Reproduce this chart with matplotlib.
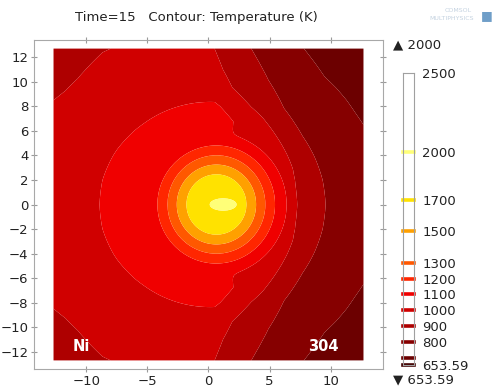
import numpy as np
import matplotlib.pyplot as plt

# contour levels (K) and the fill colour of the band starting at each level
levels = [653.59, 700, 800, 900, 1000, 1100, 1200, 1300, 1500, 1700, 2000, 2500]
band_colors = ['#420000', '#6c0000', '#860000', '#ae0000', '#d00000', '#f00000',
               '#ff2600', '#ff5800', '#ffa000', '#ffe200', '#ffff78']
label_levels = [653.59, 800, 900, 1000, 1100, 1200, 1300, 1500, 1700, 2000, 2500]
t_max, t_min = '2000', '653.59'

# plate temperature away from the spot: profile along x and drop with |y| (K)
bg_x = [-12.7, -11.7, -10.7, -9.7, -8.7, -7.5, -6.0, -4.0, 0.5, 3.5, 7.7, 9.5, 12.7]
bg_Tx = [1016, 1018, 1023, 1031, 1039, 1042, 1041, 1037, 1026, 928, 838, 815, 796]
bg_y = [0.0, 2.0, 4.0, 5.5, 6.6, 7.5, 8.5, 9.5, 10.5, 11.5, 12.7]
bg_dTy = [0, -3, -12, -21, -27, -31, -35, -40, -46, -53, -62]
# broad warming around the spot vs distance from its centre (mm, K)
tail_r = [0, 4.0, 5.0, 6.0, 6.9, 8.0, 8.9, 9.6, 11.0, 12.7, 14.5, 16.0, 20.0]
tail_dT = [110, 120, 130, 145, 152, 122, 87, 62, 46, 36, 26, 18, 5]

# the spot itself: isotherm radii around its centre (mm, K)
spot_x0, spot_y0 = 0.65, 0.0
spot_r = [0, 1.6, 2.1, 2.45, 3.25, 4.0, 4.8, 5.75, 7.0, 9.0, 20.0]
spot_T = [1990, 1985, 1900, 1700, 1500, 1300, 1200, 1100, 900, 600, 0]

# small elliptical core above 2000 K
core_x0, core_y0, core_a, core_b = 1.2, 0.0, 1.1, 0.5
core_Tpeak, core_Tedge = 2030, 2000

half = 12.7
x = np.linspace(-half, half, 601)
X, Y = np.meshgrid(x, x)
R = np.hypot(X - spot_x0, Y - spot_y0)
outer = (np.interp(X, bg_x, bg_Tx) + np.interp(np.abs(Y), bg_y, bg_dTy)
         + np.interp(R, tail_r, tail_dT))
inner = np.interp(R, spot_r, spot_T)
tau = 20.0
T = tau * np.logaddexp(outer / tau, inner / tau)
Q = ((X - core_x0) / core_a) ** 2 + ((Y - core_y0) / core_b) ** 2
T = np.maximum(T, core_Tpeak - (core_Tpeak - core_Tedge) * Q ** 4)

fig = plt.figure(figsize=(4.97, 3.88), dpi=100)
ax = fig.add_axes([34 / 497, 19 / 388, 349 / 497, 329 / 388])
ax.contourf(X, Y, T, levels=levels, colors=band_colors, antialiased=True)
ax.set_xlim(-14.3, 14.3)
ax.set_ylim(-13.4, 13.4)
ax.set_xticks([-10, -5, 0, 5, 10])
ax.set_yticks(range(-12, 13, 2))
ax.tick_params(direction='inout', length=4, width=0.8, color='#9a9a9a',
               labelsize=9.5, labelcolor='#222222', top=True, right=True,
               labeltop=False, labelright=False, pad=2)
for sp in ax.spines.values():
    sp.set_color('#a8a8a8')
    sp.set_linewidth(0.8)

ax.text(-10.4, -11.6, 'Ni', color='white', fontsize=10.5, fontweight='bold',
        ha='center', va='center')
ax.text(9.4, -11.6, '304', color='white', fontsize=10.5, fontweight='bold',
        ha='center', va='center')

fig.text(196 / 497, 1 - 17 / 388, 'Time=15   Contour: Temperature (K)',
         ha='center', va='center', fontsize=9.5, color='#222222')

# legend bar: white box with a coloured dash per level
cax = fig.add_axes([403 / 497, 23 / 388, 11 / 497, 292 / 388])
cax.set_xlim(0, 1)
cax.set_ylim(levels[0], levels[-1])
dash_colors = band_colors + ['#ffffff']
for lev, col in zip(levels, dash_colors):
    cax.axhline(lev, color=col, lw=2.6, clip_on=False)
cax.set_xticks([])
cax.yaxis.tick_right()
cax.set_yticks(label_levels)
cax.set_yticklabels([f'{v:g}' for v in label_levels])
cax.tick_params(axis='y', length=0, labelsize=9.5, labelcolor='#222222', pad=6)
for sp in cax.spines.values():
    sp.set_color('#a0a0a0')
    sp.set_linewidth(0.8)

fig.text(393 / 497, 1 - 45 / 388, '\u25b2 ' + t_max, ha='left', va='center',
         fontsize=9.5, color='#222222')
fig.text(393 / 497, 1 - 380 / 388, '\u25bc ' + t_min, ha='left', va='center',
         fontsize=9.5, color='#222222')

# faint software mark in the corner
fig.text(458 / 497, 1 - 11 / 388, 'COMSOL', ha='center', va='center',
         fontsize=4.5, color='#c4d2e0')
fig.text(452 / 497, 1 - 19 / 388, 'MULTIPHYSICS', ha='center', va='center',
         fontsize=4.5, color='#c4d2e0')
fig.text(487 / 497, 1 - 16 / 388, '\u25a0', ha='center', va='center',
         fontsize=9, color='#6f9ec8')

fig.savefig('out.png', dpi=100)
